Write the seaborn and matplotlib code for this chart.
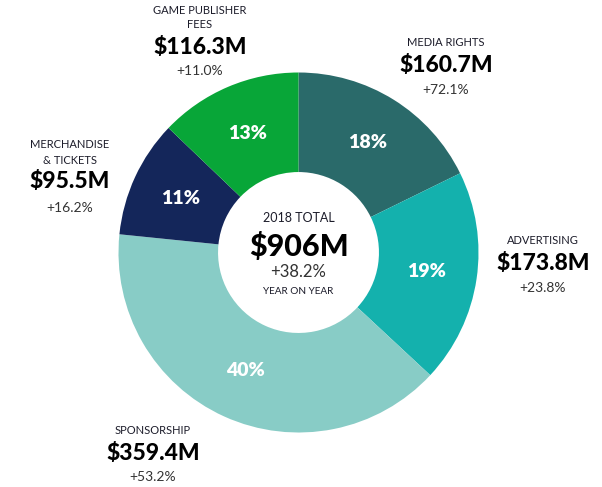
import matplotlib
matplotlib.use('Agg')
import matplotlib.pyplot as plt
import seaborn as sns
import numpy as np

# data
segments = ['MEDIA RIGHTS', 'ADVERTISING', 'SPONSORSHIP', 'MERCHANDISE\n& TICKETS', 'GAME PUBLISHER\nFEES']
revenue = [160.7, 173.8, 359.4, 95.5, 116.3]
growth = ['+72.1%', '+23.8%', '+53.2%', '+16.2%', '+11.0%']
pct_labels = ['18%', '19%', '40%', '11%', '13%']
colors = ['#2a6a6a', '#14b1ad', '#88ccc6', '#14265a', '#08a638']
total_label = '$906M'
total_growth = '+38.2%'

sns.set_theme(style='white')
plt.rcParams['font.family'] = ['Lato', 'DejaVu Sans']

W, H = 602, 487
fig = plt.figure(figsize=(W / 100, H / 100), dpi=100)
ax = fig.add_axes([0, 0, 1, 1])

cx, cy, R = 298.5, H - 252.5, 180
wedges, _ = ax.pie(revenue, colors=colors, startangle=90, counterclock=False,
                   center=(cx, cy), radius=R, frame=True,
                   wedgeprops=dict(width=R * 0.553, linewidth=0))
ax.set_xlim(0, W)
ax.set_ylim(0, H)
ax.axis('off')

# percent labels in the ring
start = 90.0
tot = sum(revenue)
for v, lab in zip(revenue, pct_labels):
    span = v / tot * 360
    mid = np.deg2rad(start - span / 2)
    r = R * 0.72
    ax.text(cx + r * np.cos(mid), cy + r * np.sin(mid), lab, color='white',
            fontsize=14, fontweight='heavy', ha='center', va='center')
    start -= span

def label_block(x, name_ys, name_lines, val_y, val, g_y, g):
    for yy, t in zip(name_ys, name_lines):
        ax.text(x, H - yy, t, fontsize=8, color='#1c1c2a', ha='center', va='center')
    ax.text(x, H - val_y, '$%.1fM' % val, fontsize=16.5, fontweight='black',
            color='black', ha='center', va='center')
    ax.text(x, H - g_y, g, fontsize=10, color='#333333', ha='center', va='center')

label_block(446, [43], segments[0].split('\n'), 66, revenue[0], 90, growth[0])
label_block(543, [241], segments[1].split('\n'), 263, revenue[1], 288, growth[1])
label_block(153, [431], segments[2].split('\n'), 454, revenue[2], 477, growth[2])
label_block(70, [145, 161], segments[3].split('\n'), 182, revenue[3], 208, growth[3])
label_block(200, [10, 25], segments[4].split('\n'), 47, revenue[4], 71, growth[4])

# centre text
ax.text(cx, H - 218, '2018 TOTAL', fontsize=9, color='#1c1c2a', ha='center', va='center')
ax.text(cx, H - 246, total_label, fontsize=22, fontweight='black', color='black',
        ha='center', va='center')
ax.text(cx, H - 272, total_growth, fontsize=12, color='#333333', ha='center', va='center')
ax.text(cx, H - 291, 'YEAR ON YEAR', fontsize=7.2, color='#1c1c2a', ha='center', va='center')

fig.savefig('out.png', dpi=100)
